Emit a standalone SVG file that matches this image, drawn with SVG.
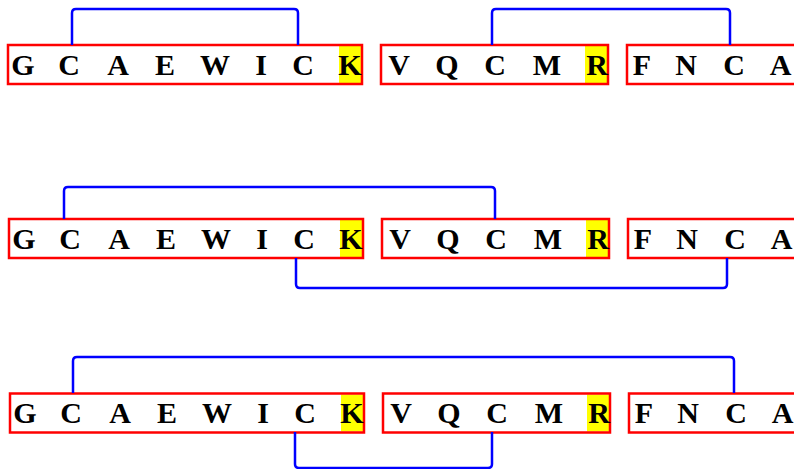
<svg xmlns="http://www.w3.org/2000/svg" width="794" height="469" viewBox="0 0 794 469">
  <style>
    .box { fill: none; stroke: #ff0000; stroke-width: 2.5; }
    .hl { fill: #ffff00; }
    .link { fill: none; stroke: #0000ff; stroke-width: 2.5; }
  </style>

  <g font-family="'Liberation Serif', 'Times New Roman', serif" font-weight="bold" font-size="30" text-anchor="middle" fill="#000">
  <!-- row 1 -->
  <g transform="translate(0,0)">
    <g id="r1-frag1">
      <rect class="hl" x="339" y="46" width="23" height="37"/>
      <rect class="box" x="8" y="45" width="354" height="39"/>
      <text y="74.5"><tspan x="23">G</tspan><tspan x="69">C</tspan><tspan x="118">A</tspan><tspan x="165">E</tspan><tspan x="215">W</tspan><tspan x="261">I</tspan><tspan x="303">C</tspan><tspan x="350">K</tspan></text>
    </g>
    <g id="r1-frag2">
      <rect class="hl" x="585" y="46" width="23" height="37"/>
      <rect class="box" x="381" y="45" width="227" height="39"/>
      <text y="74.5"><tspan x="399">V</tspan><tspan x="447">Q</tspan><tspan x="495">C</tspan><tspan x="547">M</tspan><tspan x="597">R</tspan></text>
    </g>
    <g id="r1-frag3">
      <rect class="box" x="627" y="45" width="200" height="39"/>
      <text y="74.5"><tspan x="642">F</tspan><tspan x="686">N</tspan><tspan x="734">C</tspan><tspan x="780.5">A</tspan></text>
    </g>
  </g>

  <!-- row 2 -->
  <g transform="translate(1,174)">
    <g id="r2-frag1">
      <rect class="hl" x="339" y="46" width="23" height="37"/>
      <rect class="box" x="8" y="45" width="354" height="39"/>
      <text y="74.5"><tspan x="23">G</tspan><tspan x="69">C</tspan><tspan x="118">A</tspan><tspan x="165">E</tspan><tspan x="215">W</tspan><tspan x="261">I</tspan><tspan x="303">C</tspan><tspan x="350">K</tspan></text>
    </g>
    <g id="r2-frag2">
      <rect class="hl" x="585" y="46" width="23" height="37"/>
      <rect class="box" x="381" y="45" width="227" height="39"/>
      <text y="74.5"><tspan x="399">V</tspan><tspan x="447">Q</tspan><tspan x="495">C</tspan><tspan x="547">M</tspan><tspan x="597">R</tspan></text>
    </g>
    <g id="r2-frag3">
      <rect class="box" x="627" y="45" width="200" height="39"/>
      <text y="74.5"><tspan x="642">F</tspan><tspan x="686">N</tspan><tspan x="734">C</tspan><tspan x="780.5">A</tspan></text>
    </g>
  </g>

  <!-- row 3 -->
  <g transform="translate(2,348.5)">
    <g id="r3-frag1">
      <rect class="hl" x="339" y="46" width="23" height="37"/>
      <rect class="box" x="8" y="45" width="354" height="39"/>
      <text y="74.5"><tspan x="23">G</tspan><tspan x="69">C</tspan><tspan x="118">A</tspan><tspan x="165">E</tspan><tspan x="215">W</tspan><tspan x="261">I</tspan><tspan x="303">C</tspan><tspan x="350">K</tspan></text>
    </g>
    <g id="r3-frag2">
      <rect class="hl" x="585" y="46" width="23" height="37"/>
      <rect class="box" x="381" y="45" width="227" height="39"/>
      <text y="74.5"><tspan x="399">V</tspan><tspan x="447">Q</tspan><tspan x="495">C</tspan><tspan x="547">M</tspan><tspan x="597">R</tspan></text>
    </g>
    <g id="r3-frag3">
      <rect class="box" x="627" y="45" width="200" height="39"/>
      <text y="74.5"><tspan x="642">F</tspan><tspan x="686">N</tspan><tspan x="734">C</tspan><tspan x="780.5">A</tspan></text>
    </g>
  </g>
  </g>

  <!-- disulfide bonds -->
  <g id="connectors">
    <path class="link" d="M72,45 V13 Q72,9 76,9 H294 Q298,9 298,13 V45"/>
    <path class="link" d="M492,45 V13 Q492,9 496,9 H726 Q730,9 730,13 V45"/>
    <path class="link" d="M64,219 V191 Q64,187 68,187 H491 Q495,187 495,191 V219"/>
    <path class="link" d="M296,258 V284 Q296,288 300,288 H723 Q727,288 727,284 V258"/>
    <path class="link" d="M73,393 V361 Q73,357 77,357 H730 Q734,357 734,361 V393"/>
    <path class="link" d="M295,432 V464 Q295,468 299,468 H488 Q492,468 492,464 V432"/>
  </g>
</svg>
